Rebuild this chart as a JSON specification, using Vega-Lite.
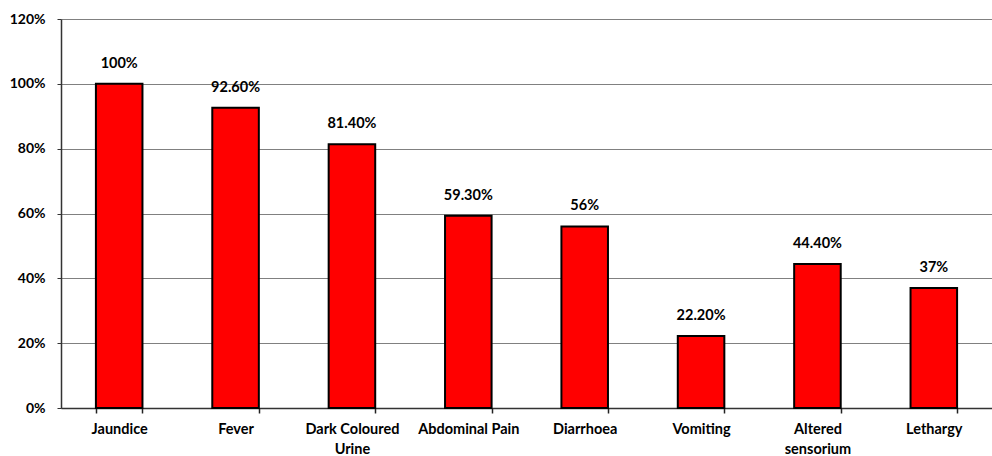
{
  "$schema": "https://vega.github.io/schema/vega-lite/v6.json",
  "width": 931,
  "height": 389,
  "autosize": {"type": "none"},
  "padding": {"left": 61, "top": 19, "right": 0, "bottom": 48},
  "background": "white",
  "config": {
    "view": {"stroke": null},
    "font": "Lato",
    "axis": {"labelFont": "Lato", "labelFontWeight": "bold", "labelFontSize": 14.5, "labelColor": "#000"}
  },
  "data": {
    "values": [
      {"symptom": "Jaundice", "pct": 1.0, "label": "100%"},
      {"symptom": "Fever", "pct": 0.926, "label": "92.60%"},
      {"symptom": "Dark Coloured Urine", "pct": 0.814, "label": "81.40%"},
      {"symptom": "Abdominal Pain", "pct": 0.593, "label": "59.30%"},
      {"symptom": "Diarrhoea", "pct": 0.56, "label": "56%"},
      {"symptom": "Vomiting", "pct": 0.222, "label": "22.20%"},
      {"symptom": "Altered sensorium", "pct": 0.444, "label": "44.40%"},
      {"symptom": "Lethargy", "pct": 0.37, "label": "37%"}
    ]
  },
  "encoding": {
    "x": {
      "field": "symptom", "type": "nominal", "sort": null,
      "scale": {"paddingInner": 0.6, "paddingOuter": 0.3},
      "axis": {
        "title": null, "labelAngle": 0, "ticks": true, "tickBand": "extent",
        "domainColor": "#333", "domainWidth": 1.5,
        "tickColor": "#222", "tickSize": 5, "tickWidth": 1.5,
        "labelPadding": 9, "labelLineHeight": 20, "labelBaseline": "top",
        "labelExpr": "datum.value == 'Dark Coloured Urine' ? ['Dark Coloured', 'Urine'] : datum.value == 'Altered sensorium' ? ['Altered', 'sensorium'] : datum.value"
      }
    },
    "y": {
      "field": "pct", "type": "quantitative",
      "scale": {"domain": [0, 1.2], "nice": false},
      "axis": {
        "title": null, "format": ".0%", "values": [0, 0.2, 0.4, 0.6, 0.8, 1.0, 1.2],
        "labelFontSize": 14,
        "grid": true, "gridColor": "#808080", "gridWidth": 1,
        "domainColor": "#333", "domainWidth": 1.5,
        "tickColor": "#333", "tickSize": 4, "labelPadding": 12
      }
    }
  },
  "layer": [
    {"mark": {"type": "bar", "color": "#FF0000", "stroke": "#000", "strokeWidth": 2}},
    {
      "mark": {"type": "text", "dy": -16, "baseline": "alphabetic", "fontWeight": "bold", "fontSize": 14.5, "font": "Lato", "color": "#000"},
      "encoding": {"text": {"field": "label"}}
    }
  ]
}
